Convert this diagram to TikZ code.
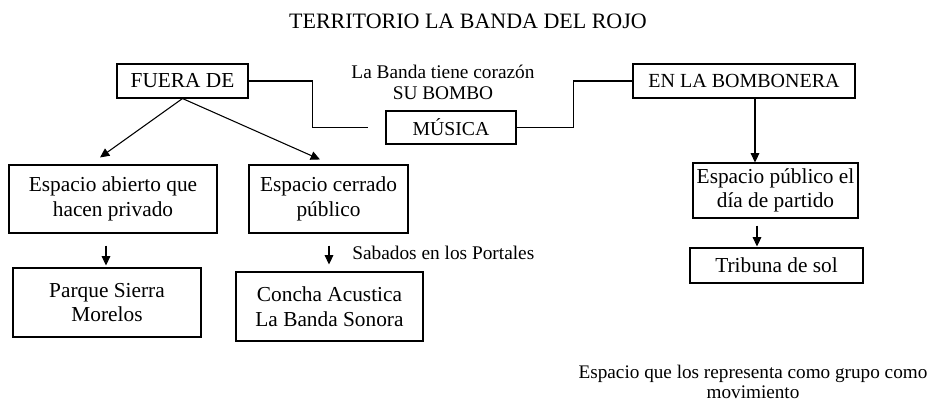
\documentclass[tikz,border=0pt]{standalone}
\usepackage{fontspec}
\setmainfont{Liberation Serif}
\usetikzlibrary{arrows.meta,calc}
\tikzset{
  box/.style={draw=black, line width=0.8pt, rectangle, inner sep=0pt, align=center, anchor=center},
  boxfont/.style={font=\fontsize{16}{18.5}\selectfont},
  lblfont/.style={font=\fontsize{14.5}{16}\selectfont},
  conn/.style={draw=black, line width=0.8pt},
  arr/.style={conn, -{Triangle[length=7pt,width=6.5pt]}}
}
\begin{document}
\begin{tikzpicture}[x=0.75pt,y=-0.75pt]
\useasboundingbox (0,0) rectangle (930,403);
% title
\node[font=\fontsize{16.5}{18}\selectfont] (title) at (468,21) {TERRITORIO LA BANDA DEL ROJO};
% top row
\node[box, boxfont, minimum width=131*0.75pt, minimum height=34*0.75pt] (fuera) at (182.5,81) {FUERA DE};
\node[box, font=\fontsize{14.8}{16}\selectfont, minimum width=130*0.75pt, minimum height=33*0.75pt] (musica) at (451,127.5) {MÚSICA};
\node[box, font=\fontsize{15}{16}\selectfont, minimum width=222*0.75pt, minimum height=34*0.75pt] (enla) at (744,81) {EN LA BOMBONERA};
\node[lblfont, align=center] (corazon) at (443,82.5) {La Banda tiene corazón\\SU BOMBO};
% left branch
\node[box, boxfont, minimum width=208*0.75pt, minimum height=68*0.75pt] (abierto) at (113,199) {Espacio abierto que\\hacen privado};
\node[box, boxfont, minimum width=159*0.75pt, minimum height=68*0.75pt] (cerrado) at (328.5,199) {Espacio cerrado\\público};
\node[box, boxfont, minimum width=188*0.75pt, minimum height=69*0.75pt] (parque) at (107,302.5) {Parque Sierra\\Morelos};
\node[box, boxfont, minimum width=187*0.75pt, minimum height=69*0.75pt] (concha) at (329.5,306.5) {Concha Acustica\\La Banda Sonora};
\node[lblfont, anchor=west, inner sep=0pt] (sabados) at (352,253) {Sabados en los Portales};
% right branch
\node[box, boxfont, minimum width=165*0.75pt, minimum height=55*0.75pt] (publico) at (775.5,190.5) {Espacio público el\\día de partido};
\node[box, boxfont, minimum width=173*0.75pt, minimum height=35*0.75pt] (tribuna) at (776.5,265.5) {Tribuna de sol};
\node[lblfont, align=center, font=\fontsize{14.4}{15.5}\selectfont] (nota) at (753,382) {Espacio que los representa como grupo como\\movimiento};
% connectors
\draw[conn] (fuera.east) -- ++(64,0) |- ($(musica.west)+(-17,0)$);
\draw[conn] (musica.east) -- ++(57,0) |- (enla.west);
\draw[arr] (fuera.south) -- ($(abierto.north)+(-13,-7)$);
\draw[arr] (fuera.south) -- ($(cerrado.north)+(-8.5,-5)$);
\draw[arr] ($(abierto.south)+(-7,12)$) -- ($(parque.north)+(-1,-2)$);
\draw[arr] ($(cerrado.south)+(0.5,12)$) -- ($(concha.north)+(-0.5,-7)$);
\draw[arr] ($(enla.south)+(11,0)$) -- ($(publico.north)+(-20.5,0)$);
\draw[arr] ($(publico.south)+(-18.5,7)$) -- ($(tribuna.north)+(-19.5,-1)$);
\end{tikzpicture}
\end{document}
